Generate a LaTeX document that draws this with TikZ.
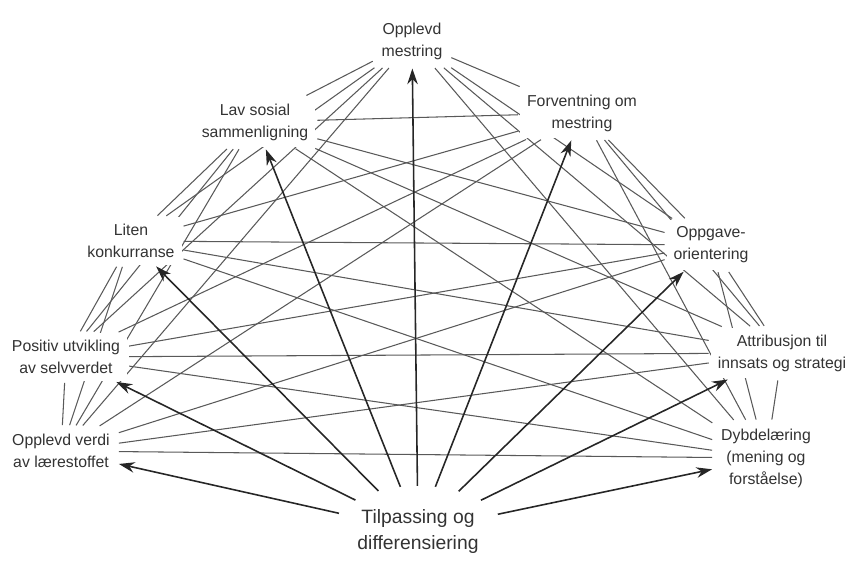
\documentclass[tikz,border=0pt]{standalone}
\usepackage{fontspec}
\setmainfont{Liberation Sans}
\usetikzlibrary{arrows.meta,shapes.geometric,backgrounds}

\begin{document}
\begin{tikzpicture}[x=0.02cm, y=-0.02cm,
		faktor/.style = {align=center, inner sep=4pt, fill=white, text=black!80, font=\fontsize{9}{12.5}\selectfont},
		tilpass/.style = {ellipse, align=center, inner sep=0pt, minimum height=51pt, text=black!80, font=\fontsize{11}{14.8}\selectfont},
		forbindelse/.style = {color=black!65, line width=0.6pt, shorten <=1pt, shorten >=1pt},
		pil/.style = {color=black!85, line width=0.9pt, -{Stealth[length=9pt, width=6pt]}, shorten >=1pt}]
				\useasboundingbox (0,0) rectangle (855,572);
				\node[faktor] (mestring) at (412,41) {Opplevd\\mestring};
				\node[faktor] (sammenligning) at (255,122) {Lav sosial\\sammenligning};
				\node[faktor] (forventning) at (582,113) {Forventning om\\mestring};
				\node[faktor] (konkurranse) at (131,241) {Liten\\konkurranse};
				\node[faktor] (oppgave) at (711,245) {Oppgave-\\orientering};
				\node[faktor] (selvverdi) at (66,357) {Positiv utvikling\\av selvverdet};
				\node[faktor] (attribusjon) at (782,353) {Attribusjon til\\innsats og strategi};
				\node[faktor] (verdi) at (61,451) {Opplevd verdi\\av lærestoffet};
				\node[faktor] (dybde) at (766,458) {Dybdelæring\\(mening og\\forståelse)};
				\node[tilpass] (tilpassing) at (418,531) {Tilpassing og\\differensiering};
				\begin{scope}[on background layer]
					\foreach [count=\i] \a in {mestring,forventning,oppgave,attribusjon,dybde,verdi,selvverdi,konkurranse,sammenligning}
						\foreach [count=\j] \b in {mestring,forventning,oppgave,attribusjon,dybde,verdi,selvverdi,konkurranse,sammenligning}
							{\ifnum\j>\i \draw[forbindelse] (\a) -- (\b); \fi}
				\end{scope}
				\foreach \m in {mestring,forventning,oppgave,attribusjon,dybde,verdi,selvverdi,konkurranse,sammenligning}
					\draw[pil] (tilpassing) -- (\m);
			\end{tikzpicture}
\end{document}
